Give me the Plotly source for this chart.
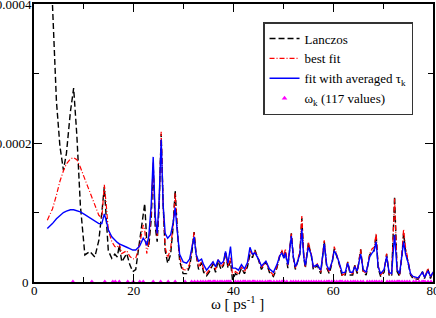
import plotly.graph_objects as go

omega = [2.67, 3.7, 4.5, 5.2, 5.9, 6.5, 7.3, 7.95, 8.6, 9.3, 10.2, 11.2, 12.2, 13.0, 13.6,
         14.1, 14.5, 14.9, 15.6, 16.2, 16.7, 17.1, 17.6, 18.6, 19.2, 19.8, 20.4, 21.2, 21.9,
         22.2, 22.6, 23.0, 23.5, 23.9, 24.3, 24.7, 25.1, 25.5, 25.9, 26.3, 26.8, 27.4, 27.9,
         28.3, 28.7, 29.2, 29.9, 30.6, 31.2, 31.7, 32.1, 32.5, 33.0, 33.6, 34.0, 34.6, 35.2,
         35.9, 36.4, 36.9, 37.5, 38.0, 38.4, 38.9, 39.4, 39.8, 40.4, 41.0, 41.6, 42.2, 42.8,
         43.3, 43.8, 44.3, 45.0, 45.6, 46.5, 47.2, 48.0, 48.7, 49.3, 49.7, 50.1, 50.4, 50.9,
         51.6, 52.0, 52.4, 52.8, 53.3, 53.7, 54.1, 54.4, 55.0, 55.6, 56.0, 56.8, 57.5, 58.2,
         58.7, 59.2, 59.8, 60.2, 60.6, 61.1, 61.8, 62.4, 62.9, 63.4, 63.9, 64.3, 64.8, 65.5,
         66.0, 66.6, 67.3, 67.8, 68.2, 68.6, 69.0, 69.5, 70.2, 70.7, 71.2, 71.7, 72.3, 72.8,
         73.3, 73.8, 74.1, 74.5, 75.0, 75.5, 76.0, 77.0, 77.9, 78.3, 79.0, 79.5, 80.0]

# spectra in units of 1e-6
lanczos = [800, 400, 260, 195, 161, 185, 245, 279, 210, 110, 39, 44, 36, 60, 100,
           137, 90, 45, 34, 40, 36, 53, 29, 41, 25, 15, 18, 60, 100,
           113, 60, 50, 90, 168, 80, 58, 110, 213, 110, 45, 27, 40, 80,
           132, 80, 30, 12, 12, 22, 45, 72, 40, 18, 28, 14, 9, 15,
           26, 14, 30, 18, 24, 44, 20, 30, 3, 12, 9, 20, 12, 22,
           40, 35, 46, 32, 18, 29, 14, 8, 20, 38, 44, 34, 44, 20,
           70, 35, 18, 28, 40, 92, 35, 20, 56, 38, 18, 24, 12, 59,
           20, 12, 28, 48, 40, 28, 8, 10, 29, 10, 10, 24, 12, 47,
           14, 10, 39, 44, 45, 68, 20, 8, 14, 40, 10, 8, 123, 15,
           8, 40, 70, 45, 28, 10, 5, 4, 15, 5, 18, 5, 15]

best_fit = [89, 105, 125, 145, 160, 170, 177, 179, 176, 165, 148, 130, 110, 96, 92,
            140, 110, 75, 58, 51, 50, 55, 41, 45, 37, 33, 34, 55, 82,
            75, 41, 55, 100, 172, 90, 65, 115, 216, 110, 50, 35, 48, 85,
            128, 80, 35, 18, 17, 26, 48, 72, 40, 22, 30, 18, 12, 18,
            29, 18, 32, 22, 26, 42, 22, 36, 10, 15, 12, 22, 14, 25,
            45, 38, 44, 34, 20, 30, 16, 10, 22, 40, 46, 36, 48, 24,
            70, 36, 20, 29, 45, 95, 38, 22, 58, 40, 20, 26, 14, 60,
            22, 14, 30, 51, 42, 30, 10, 12, 29, 12, 12, 24, 14, 47,
            16, 12, 40, 48, 50, 70, 24, 10, 16, 41, 12, 10, 120, 18,
            10, 45, 76, 50, 30, 12, 6, 5, 15, 6, 20, 6, 14]

avg_fit = [77, 84, 91, 96, 100, 102, 104, 104, 103, 101, 97, 92, 88, 84, 84,
           98, 88, 75, 65, 60, 57, 55, 53, 50, 48, 46, 46, 52, 63,
           60, 53, 65, 110, 180, 95, 70, 120, 205, 110, 70, 63, 68, 85,
           107, 75, 40, 29, 27, 33, 50, 65, 40, 30, 33, 25, 17, 22,
           29, 22, 32, 26, 30, 44, 27, 51, 20, 20, 17, 25, 19, 28,
           50, 40, 42, 33, 23, 30, 19, 14, 25, 38, 42, 34, 42, 25,
           66, 36, 22, 28, 40, 76, 35, 24, 50, 39, 22, 25, 17, 55,
           24, 17, 30, 45, 40, 30, 13, 14, 27, 14, 14, 22, 16, 40,
           18, 14, 36, 42, 45, 58, 22, 12, 18, 37, 14, 12, 68, 18,
           12, 40, 58, 40, 28, 12, 8, 6, 14, 7, 16, 8, 14]

# the 117 frequencies omega_k
omega_k = [7.8, 11.6, 14.2, 15.8, 16.3, 17.1, 18.8, 19.9, 21.2, 21.9, 23.9, 25.4, 26.9, 28.3,
           30.3, 31.6, 32.2, 32.8, 33.4, 33.9,
           34.4, 34.9, 35.1, 35.4, 35.9, 36.1, 36.3, 36.8, 37.3, 37.7, 38.2, 38.6, 38.9, 39.1, 39.4,
           40.4, 40.9, 41.4, 41.9, 42.1, 42.4, 42.9, 43.3, 43.8, 44.0, 44.3, 44.8, 45.3, 45.8,
           46.4, 46.9, 47.2, 47.5, 48.1, 48.7, 49.2, 49.7, 49.9, 50.2, 50.7,
           51.5, 52.0, 52.5, 53.0, 53.6, 54.1, 54.6, 55.1, 55.6, 56.1, 56.6, 57.1, 57.6,
           58.2, 58.7, 59.0, 59.2, 59.7, 60.2, 60.7, 61.2, 61.5, 61.8, 62.4, 62.9, 63.5, 64.0,
           64.4, 64.9, 65.5, 66.0,
           66.8, 67.3, 67.8, 68.3, 68.7, 69.2, 69.7,
           70.8, 71.3, 71.8, 72.3, 72.8, 73.0, 73.3, 73.8, 74.3, 74.8, 75.3,
           76.1, 76.6, 77.2, 77.8, 78.1, 78.4, 79.0, 79.6]

x_ticks = [0, 20, 40, 60, 80]
x_ticklabels = ["0", "20", "40", "60", "80"]
y_ticks = [0, 0.0002, 0.0004]
y_ticklabels = ["0", "0.0002", "0.0004"]

UNIT = 1e-6
FONT = "Liberation Serif, Times New Roman, serif"

fig = go.Figure()
fig.add_trace(go.Scatter(x=omega, y=[v * UNIT for v in lanczos], mode="lines",
                         name="Lanczos",
                         line=dict(color="black", width=1.4, dash="6px,3px")))
fig.add_trace(go.Scatter(x=omega, y=[v * UNIT for v in best_fit], mode="lines",
                         name="best fit",
                         line=dict(color="red", width=1.2, dash="5px,2px,1px,2px")))
fig.add_trace(go.Scatter(x=omega, y=[v * UNIT for v in avg_fit], mode="lines",
                         name="fit with averaged τ<sub>k</sub>",
                         line=dict(color="blue", width=1.4)))
fig.add_trace(go.Scatter(x=omega_k, y=[0] * len(omega_k), mode="markers",
                         name="ω<sub>k</sub> (117 values)", cliponaxis=False,
                         marker=dict(symbol="triangle-up", size=5, color="magenta")))

axis_common = dict(showline=True, linecolor="black", linewidth=2, mirror="ticks",
                   ticks="inside", ticklen=8, tickcolor="black", tickwidth=1,
                   showgrid=False, zeroline=False, automargin=False,
                   ticklabeloverflow="allow",
                   tickfont=dict(family=FONT, size=13, color="black"))

# the two "0" labels at the corner are drawn as annotations (plotly hides one of them)
fig.update_xaxes(range=[0, 80], tickvals=x_ticks, ticktext=[""] + x_ticklabels[1:],
                 ticklabelstandoff=-5,
                 minor=dict(dtick=10, ticks="inside", ticklen=5, tickcolor="black", showgrid=False),
                 **axis_common)
fig.update_yaxes(range=[0, 0.0004], tickvals=y_ticks, ticktext=[""] + y_ticklabels[1:],
                 ticklabelstandoff=-2,
                 minor=dict(dtick=0.0001, ticks="inside", ticklen=5, tickcolor="black", showgrid=False),
                 **axis_common)

fig.add_annotation(text=x_ticklabels[0], xref="x", yref="paper",
                   x=x_ticks[0], y=-0.029, xanchor="center", yanchor="middle", showarrow=False,
                   font=dict(family=FONT, size=13, color="black"))
fig.add_annotation(text=y_ticklabels[0], xref="paper", yref="y",
                   x=-0.0075, y=y_ticks[0], xanchor="right", yanchor="middle", showarrow=False,
                   font=dict(family=FONT, size=13, color="black"))

fig.add_annotation(text="ω [ ps<sup>-1</sup> ]", xref="paper", yref="paper",
                   x=0.51, y=-0.075, xanchor="center", yanchor="middle", showarrow=False,
                   font=dict(family=FONT, size=15, color="black"))

fig.update_layout(
    width=436, height=318,
    margin=dict(l=34, r=3, t=4, b=36, autoexpand=False),
    paper_bgcolor="white", plot_bgcolor="white",
    font=dict(family=FONT, size=13, color="black"),
    legend=dict(x=0.574, y=0.935, xanchor="left", yanchor="top",
                bgcolor="white", bordercolor="#333", borderwidth=1.5,
                font=dict(family=FONT, size=13, color="black"),
                itemwidth=30, tracegroupgap=0),
    showlegend=True,
)

fig.write_html("out.html", config={"displayModeBar": False},
               post_script="document.body.style.margin='0';document.body.style.overflow='hidden';")
